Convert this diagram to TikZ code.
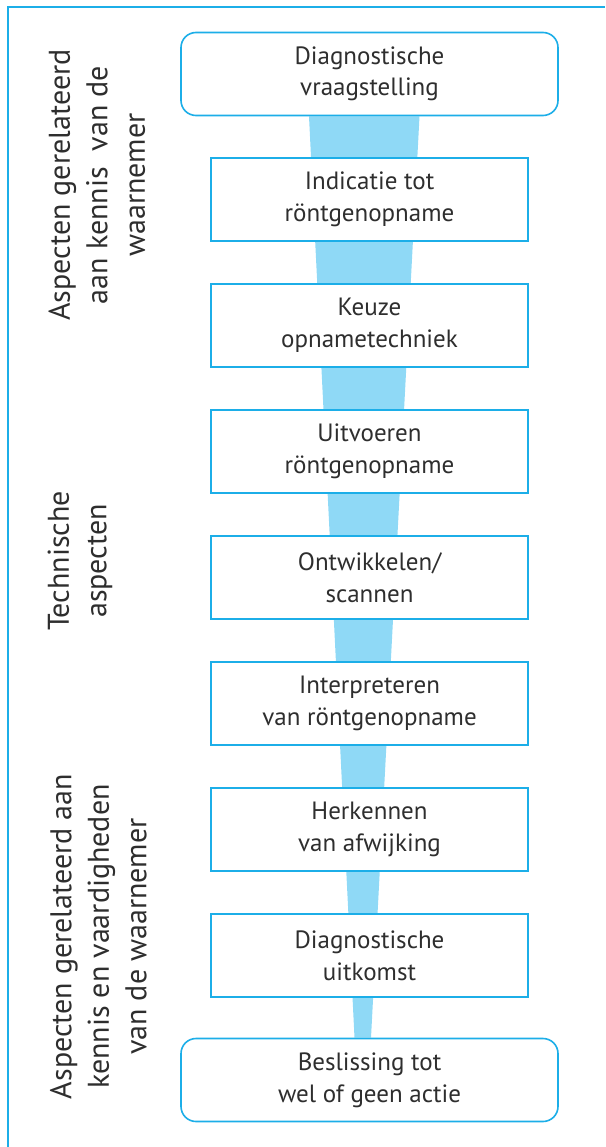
\documentclass[tikz,border=0pt]{standalone}
\usepackage{fontspec}
\setmainfont{PT Sans}
\usetikzlibrary{backgrounds}

\definecolor{framecyan}{HTML}{1CAEE8}
\definecolor{funnelblue}{HTML}{8FD9F6}
\definecolor{textgray}{HTML}{2E2E2E}

\begin{document}
\begin{tikzpicture}[x=1pt,y=-1pt]

      \useasboundingbox (0,0) rectangle (605,1147);

      % kader links en boven
      \draw[framecyan,line width=1.3pt] (8,1147) -- (8,7) -- (605,7);

      \begin{scope}[every node/.style={draw=framecyan,line width=1.6pt,fill=white,text=textgray,
          align=center,inner sep=0pt,minimum width=317pt,minimum height=83pt,
          font=\fontsize{25}{31.6}\selectfont}]
        \node[rounded corners=15pt,minimum width=377pt] (1) at (369.5,74) {Diagnostische\\vraagstelling};
        \node (2) at (369.5,199.5) {Indicatie tot\\röntgenopname};
        \node (3) at (369.5,325.5) {Keuze\\opnametechniek};
        \node (4) at (369.5,451.5) {Uitvoeren\\röntgenopname};
        \node (5) at (369.5,577.5) {Ontwikkelen/\\scannen};
        \node (6) at (369.5,703.5) {Interpreteren\\van röntgenopname};
        \node (7) at (369.5,829.5) {Herkennen\\van afwijking};
        \node (8) at (369.5,955.5) {Diagnostische\\uitkomst};
        \node[rounded corners=15pt,minimum width=377pt] (9) at (369.5,1080) {Beslissing tot\\wel of geen actie};
      \end{scope}

      % trechter achter de stappen
      \begin{scope}[on background layer]
        \fill[funnelblue] ([xshift=-60.5pt]1.south) -- ([xshift=50pt]1.south)
          -- ([xshift=1.5pt]9.north) -- ([xshift=-15pt]9.north) -- cycle;
      \end{scope}

      \begin{scope}[every node/.style={rotate=90,align=center,text=textgray,inner sep=0pt,
          font=\fontsize{30}{37.5}\selectfont}]
        \node (a) at (97,185) {Aspecten gerelateerd\\aan kennis\ \ van de\\waarnemer};
        \node (b) at (80,561) {Technische\\aspecten};
        \node (c) at (98.5,936.5) {Aspecten gerelateerd aan\\kennis en vaardigheden\\van de waarnemer};
      \end{scope}

    \end{tikzpicture}
\end{document}
